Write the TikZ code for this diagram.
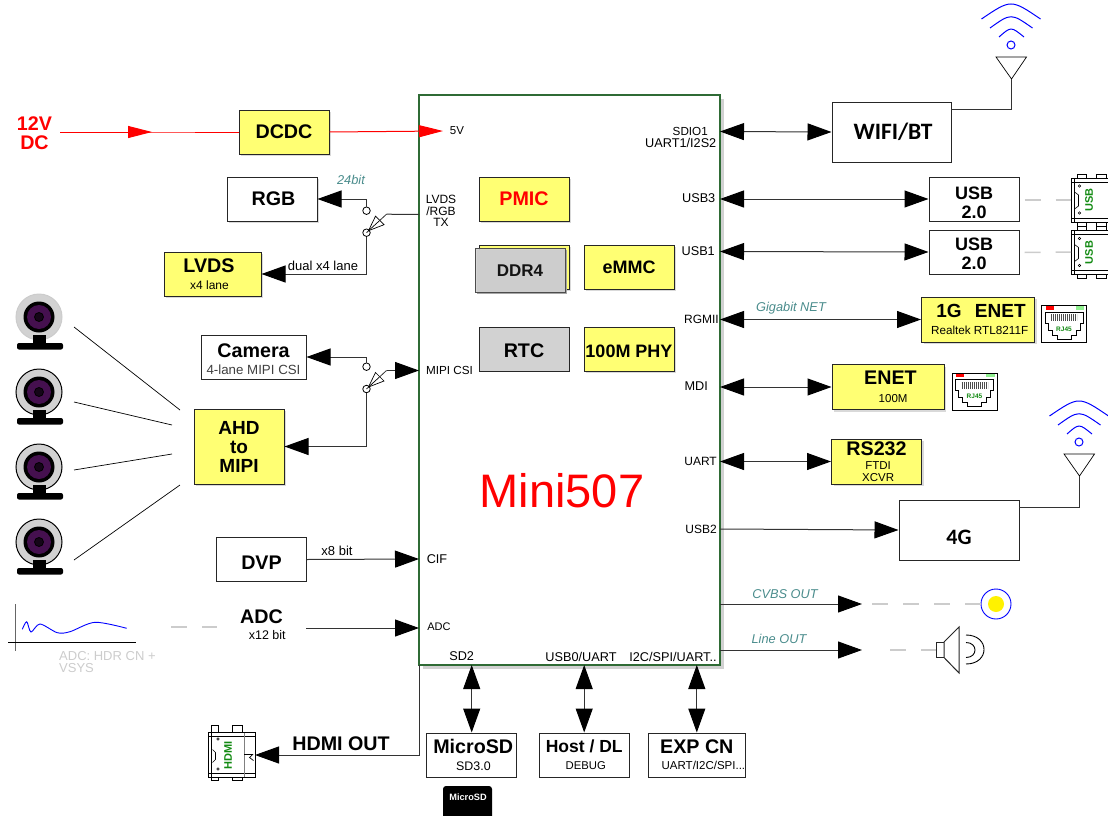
\documentclass[tikz,border=0pt]{standalone}
\usepackage{fontspec}
\usepackage{xcolor}
\usepackage{tikz}
\usetikzlibrary{arrows.meta,positioning,shadows}
\setmainfont{Liberation Sans}
\newfontfamily\calibri{Carlito}
\newcommand{\subtxt}[1][12]{\fontsize{#1}{12.5}\selectfont\mdseries}
\newcommand{\boxfont}[1]{\bfseries\fontsize{#1}{19}\selectfont}
\newcommand{\topstrut}[1]{\rule{0pt}{#1pt}}
\definecolor{boxyellow}{HTML}{FFFF73}
\definecolor{boxgray}{HTML}{D2D2D2}
\definecolor{chipgreen}{HTML}{2F6B35}
\definecolor{noteteal}{HTML}{4A8C8C}
\definecolor{lenspurple}{HTML}{45104F}
\definecolor{usbgreen}{HTML}{128A12}
\definecolor{ledgreen}{HTML}{90F090}

\begin{document}
\begin{tikzpicture}[
    x=1pt, y=-1pt,
    box/.style={draw=black!85, rectangle, line width=1pt, inner sep=0pt, minimum width=90pt, minimum height=44pt, align=center, fill=white, font=\boxfont{19.7}},
    ybox/.style={box, fill=boxyellow, drop shadow={shadow xshift=2pt, shadow yshift=-2pt, fill=black!15, opacity=1}},
    gbox/.style={box, fill=boxgray},
    pin/.style={inner sep=0pt, font=\fontsize{12.7}{13}\selectfont},
    note/.style={inner sep=0pt, font=\fontsize{13}{13}\selectfont},
    inote/.style={inner sep=0pt, text=noteteal, font=\itshape\fontsize{12.8}{13}\selectfont},
    head/.style={inner sep=0pt, font=\boxfont{19.7}},
    wire/.style={line width=1pt, draw=black!80},
    arrow/.style={wire, -{Triangle[length=24pt,width=17pt,color=black]}},
    dbl/.style={wire, {Triangle[length=24pt,width=17pt,color=black]}-{Triangle[length=24pt,width=17pt,color=black]}},
    faint/.style={line width=1.5pt, draw=black!20, dash pattern=on 16pt off 15pt},
    camring/.style={draw=black},
    webcam/.pic={
        \filldraw[camring, fill=boxgray, line width=1pt] (0,0) circle (23pt);
        \fill[black] (-6,18) rectangle (7,27);
        \fill[black, rounded corners=2pt] (-22,26) rectangle (24,32.5);
        \fill[black] (0,0) circle (15.5pt);
        \fill[lenspurple] (0,0) circle (12pt);
        \filldraw[draw=black, fill=black!70!lenspurple, line width=.8pt] (0,0) circle (4.5pt);
    },
    antenna/.pic={
        \draw[blue, line width=1pt] (0,0) circle (4pt);
        \draw[blue, line width=1pt] (-12,-8) .. controls (0,-18.6) .. (13,-8);
        \draw[blue, line width=1pt] (-21,-17) .. controls (0,-32) .. (21.5,-17);
        \draw[blue, line width=1pt] (-29.5,-26) .. controls (0,-46) .. (29.5,-26);
        \draw[black, line width=.7pt] (-15,12) -- (15.5,12) -- (.5,34) -- cycle;
        \coordinate (-tip) at (.5,34);
    },
    wiper/.pic={
        \draw[wire, line width=.8pt] (0,0) -- (20,-18.5);
        \draw[black, line width=.7pt, fill=white] (2,-2) -- (9,-16.5) -- (17.5,-8) -- cycle;
        \draw[black, line width=.7pt] (2,-2) -- (13,-12);
        \coordinate (-tip) at (20,-18.5);
    },
    usbport/.pic={
        \draw[black, line width=.8pt] (-12,-26) rectangle (-3,-22) (7,-26) rectangle (17,-22);
        \draw[black, line width=.8pt] (-12,22) rectangle (-3,26) (7,22) rectangle (17,26);
        \draw[black, line width=1pt] (-18,-22) rectangle (19,22);
        \draw[black, line width=.7pt] (-18,-18) -- (19,-18) (-18,18) -- (19,18) (-15,-22) -- (-15,22);
        \draw[black, line width=.6pt] (-15,-8) -- (-11,-5) -- (-11,6) -- (-15,9);
        \draw[black, line width=.5pt] (-10,-14) circle (1.2pt) (-10,13) circle (1.2pt);
        \node[rotate=90, text=usbgreen, inner sep=0pt, font=\boxfont{11}] (-lbl) at (-.5,0) {USB};
    },
    hdmiport/.pic={
        \draw[black, line width=.8pt] (-20,-27.5) rectangle (-13.5,-20) (1,-27.5) rectangle (11,-20);
        \draw[black, line width=.8pt] (-20,24.5) rectangle (-13.5,28) (1,24.5) rectangle (11,28);
        \draw[black, line width=1pt] (-23,-20) rectangle (23.5,24.5);
        \draw[black, line width=.7pt] (-23,-16) -- (23.5,-16) (-23,20.5) -- (23.5,20.5) (-20,-20) -- (-20,24.5);
        \draw[black!50, line width=.7pt] (12.5,-20) -- (12.5,24.5);
        \draw[black, line width=.7pt] (12.5,2) -- (21,2) -- (18,5) -- (22,8);
        \draw[black, line width=.6pt] (-19,-3) -- (-16,0) -- (-16,7) -- (-19,10);
        \draw[black, line width=.5pt] (-13.5,-13.5) circle (1.2pt) (-13.5,16.5) circle (1.2pt);
        \node[rotate=90, text=usbgreen, inner sep=0pt, font=\boxfont{11}] (-lbl) at (-3.5,2.5) {HDMI};
        \coordinate (-in) at (23.5,2.5);
    },
    rj/.pic={
        \draw[black, line width=1pt, fill=white] (-22.5,-18.5) rectangle (22.5,18.5);
        \fill[red] (-18.5,-18) rectangle (-10.5,-14.5);
        \fill[ledgreen] (11.5,-18) rectangle (20,-14.5);
        \draw[black, line width=.9pt] (-19,-12) -- (19,-12) -- (19,-1) -- (16,-1) -- (16,6) -- (12,6) -- (12,11) -- (7,11) -- (7,15) -- (-7,15) -- (-7,11) -- (-12,11) -- (-12,6) -- (-16,6) -- (-16,-1) -- (-19,-1) -- cycle;
        \draw[black!70, line width=7pt, dash pattern=on 1.4pt off .6pt] (-13,-6.5) -- (13,-6.5);
        \node[text=usbgreen, inner sep=0pt, font=\boxfont{6.5}] (-lbl) at (0,5) {RJ45};
    },
    speaker/.pic={
        \draw[black!85, line width=1pt, fill=white] (-23,-8) rectangle (-15,7.5);
        \draw[black!85, line width=1pt, fill=white] (-15,-8) -- (0,-23) -- (0,23) -- (-15,7.5) -- cycle;
        \draw[black, line width=.9pt] (7,-15) .. controls (31,-15) and (31,14) .. (7,14);
        \draw[black, line width=.9pt] (7,-7.5) .. controls (19,-7.5) and (19,7.5) .. (7,7.5);
        \coordinate (-in) at (-23,0);
    },
]

\useasboundingbox (0,0) rectangle (1108,816);

% main module
\node[draw=chipgreen, line width=1.3pt, fill=white, rectangle, inner sep=0pt, minimum width=301pt, minimum height=570pt, drop shadow={shadow xshift=3.5pt, shadow yshift=-3.5pt, fill=black!18, opacity=1}] (chip) at (569.5,380) {};
\node[inner sep=0pt, text=red, font=\fontsize{47}{50}\selectfont] (title) at (562,491) {Mini507};

% inside the module
\node[ybox, text=red] (pmic) at (524,199) {PMIC};
\node[ybox] (ddrback) at (524,267) {};
\node[gbox, draw=black!70, drop shadow={shadow xshift=1.5pt, shadow yshift=-1.5pt, fill=black!35, opacity=1}, fill opacity=.9, font=\boxfont{17}] (ddr) at (520,270.5) {DDR4};
\node[ybox, font=\boxfont{18}] (emmc) at (629,267) {eMMC};
\node[gbox] (rtc) at (524,349) {\topstrut{18}RTC};
\node[ybox, font=\boxfont{18}] (phy) at (629,349) {\topstrut{17}100M PHY};

% chip pins
\coordinate (p5v) at (443,131);
\coordinate (plvds) at (419,214.5);
\coordinate (pcsi) at (419,370.5);
\coordinate (pcif) at (419,559);
\coordinate (padc) at (419,628);
\coordinate (psdio) at (720,131.5);
\coordinate (pusbc) at (720,199);
\coordinate (pusbb) at (720,251.5);
\coordinate (prgmii) at (720,319.5);
\coordinate (pmdi) at (720,387);
\coordinate (puart) at (720,461.5);
\coordinate (pusbd) at (720,529);
\coordinate (pcvbs) at (720,604);
\coordinate (pline) at (720,650);
\coordinate (psd) at (471.7,665);
\coordinate (phost) at (584.2,665);
\coordinate (pexp) at (696.8,665);
\coordinate (phdmi) at (419,665);

\node[pin, font=\fontsize{11.5}{13}\selectfont] (t5v) at (457,131) {5V};
\node[pin, align=center, font=\fontsize{12}{13}\selectfont] (tlvds) at (441,211) {LVDS\\[-1.5pt]/RGB\\[-1.5pt]TX};
\node[pin, font=\fontsize{11.7}{13}\selectfont] (tcsi) at (449.5,370) {MIPI CSI};
\node[pin] (tcif) at (437,559) {CIF};
\node[pin, font=\fontsize{11}{12}\selectfont] (tadc) at (439,627) {ADC};
\node[pin, anchor=east, font=\fontsize{11.7}{13}\selectfont] (tsdio) at (708,131) {SDIO1};
\node[pin, anchor=east] (tuarta) at (716.5,143) {UART1/I2S2};
\node[pin, anchor=east] (tusbc) at (715.5,198.5) {USB3};
\node[pin, anchor=east] (tusbb) at (715,251) {USB1};
\node[pin, anchor=east, font=\fontsize{12}{13}\selectfont] (trgmii) at (719,319) {RGMII};
\node[pin, anchor=east] (tmdi) at (708,386) {MDI};
\node[pin, anchor=east, font=\fontsize{12}{13}\selectfont] (tuart) at (717,461) {UART};
\node[pin, anchor=east, font=\fontsize{12}{13}\selectfont] (tusbd) at (717,529) {USB2};
\node[pin] (tsd) at (461.7,656.5) {SD2};
\node[pin] (thost) at (581,656.5) {USB0/UART};
\node[pin] (texp) at (673,656.5) {I2C/SPI/UART..};

% power
\node[ybox] (dcdc) at (284,132) {DCDC};
\node[head, text=red, align=center] (dc) at (34.5,133) {12V\\DC};
\coordinate (dcout) at (60,132);
\coordinate (dcmid) at (152,132);
\draw[line width=1pt, red] (dcout) -- (dcmid) -- (dcdc.west);
\draw[line width=1pt, red, -{Triangle[length=24pt,width=12pt,color=red]}] (dcout) -- (dcmid);
\draw[line width=1pt, red, -{Triangle[length=24pt,width=12pt,color=red]}] (dcdc.east) -- (p5v);

% display side
\node[box, drop shadow={shadow xshift=2pt, shadow yshift=-2pt, fill=black!15, opacity=1}] (rgb) at (272,199) {\hspace*{3pt}RGB};
\node[ybox, minimum width=97pt, minimum height=44pt] (lvds) at (212.5,274) {\hspace*{-7pt}LVDS\\[-2pt]\hspace*{-6pt}\subtxt x4 lane};
\node[circle, draw=black, fill=white, line width=.8pt, inner sep=0pt, minimum size=7.5pt] (swa) at (366.5,210.7) {};
\node[circle, draw=black, fill=white, line width=.8pt, inner sep=0pt, minimum size=7.5pt] (swb) at (366.5,232.7) {};
\pic (lsw) at (366.5,232.7) {wiper};
\draw[arrow] (swa) |- (rgb.east);
\draw[arrow] (swb) |- (lvds.east);
\draw[wire] (lsw-tip) -- (plvds);
\node[inote] (t24) at (351,179.5) {24bit};
\node[note] (tdual) at (323,265.5) {dual x4 lane};

% camera side
\node[box, minimum width=105pt, minimum height=44pt] (cam) at (253.5,357) {\topstrut{18}Camera\\[-2pt]\subtxt[13.3]\textcolor{black!75}{4-lane MIPI CSI}};
\node[ybox, minimum height=75pt, font=\boxfont{19}] (ahd) at (239,446.5) {AHD\\to\\MIPI};
\node[circle, draw=black, fill=white, line width=.8pt, inner sep=0pt, minimum size=7.5pt] (swc) at (366.5,366.7) {};
\node[circle, draw=black, fill=white, line width=.8pt, inner sep=0pt, minimum size=7.5pt] (swd) at (366.5,389) {};
\pic (csw) at (366.5,389) {wiper};
\draw[arrow] (swc) |- (cam.east);
\draw[arrow] (swd) |- (ahd.east);
\draw[arrow] (csw-tip) -- (pcsi);

\pic[camring/.style={draw=black!20}] (cama) at (39,317) {webcam};
\pic (camb) at (39,392) {webcam};
\pic (camc) at (39,467) {webcam};
\pic (camd) at (39,542) {webcam};
\coordinate (ca) at (74,327);
\coordinate (cb) at (74,402);
\coordinate (cc) at (74,470);
\coordinate (cd) at (74,560);
\coordinate (aa) at (180,410);
\coordinate (ab) at (172,425);
\coordinate (ac) at (172,454);
\coordinate (ad) at (180,485);
\draw[black, line width=.7pt] (ca) -- (aa);
\draw[black, line width=.7pt] (cb) -- (ab);
\draw[black, line width=.7pt] (cc) -- (ac);
\draw[black, line width=.7pt] (cd) -- (ad);

% dvp and adc
\node[box] (dvp) at (261.5,559.5) {\topstrut{20}DVP};
\draw[arrow] (dvp.east) -- (pcif);
\node[note] (tx8) at (337,551) {x8 bit};
\node[head, minimum width=89pt, align=center] (adc) at (261.5,624.5) {ADC\\[-3pt]\hspace*{8pt}\subtxt[12.5] x12 bit};
\coordinate (adcin) at (171,627);
\coordinate (adcw) at (217,627);
\coordinate (adce) at (306,628);
\draw[faint] (adcin) -- (adcw);
\draw[arrow] (adce) -- (padc);

\draw[black!60, line width=1pt] (15.7,604) -- (15.7,650.5);
\draw[black, line width=.9pt] (8,642.3) -- (136,642.3);
\draw[blue, line width=.9pt] plot[smooth] coordinates {(22.3,629.3) (26.7,621.7) (31,632) (40,624) (57.3,632.7) (70,631.7) (95,622.3) (126.7,628.3)};
\node[note, anchor=north west, align=left, text=black!20, font=\fontsize{13}{12}\selectfont] (tadcsrc) at (59,651) {ADC: HDR CN +\\VSYS};

% right side, wireless
\node[box, minimum width=119pt, minimum height=60pt, font=\calibri\bfseries\fontsize{23.5}{24}\selectfont] (wifi) at (891.5,132) {\hspace*{3pt}WIFI/BT};
\coordinate (wifiout) at (951,109);
\pic (wifiant) at (1011,45) {antenna};
\draw[dbl] (psdio) -- (wifi.west);
\draw[wire] (wifiout) -| (wifiant-tip);

% right side, usb
\node[box, font=\boxfont{18}] (usbc) at (974,199) {\topstrut{21}USB\\2.0};
\node[box, below=8pt of usbc, font=\boxfont{18}] (usbb) {\topstrut{17}USB\\2.0};
\draw[dbl] (pusbc) -- (usbc.west);
\draw[dbl] (pusbb) -- (usbb.west);
\pic (connc) at (1089.5,200) {usbport};
\pic (connb) at (1089.5,252.5) {usbport};
\coordinate (connci) at (1071,200);
\coordinate (connbi) at (1071,252);
\draw[faint] (usbc.east) ++(5,1) -- (connci);
\draw[faint] (usbb.east) ++(5,0.5) -- (connbi);

% right side, ethernet and serial
\node[ybox, minimum width=113pt, minimum height=45pt, font=\boxfont{19}] (gbe) at (978,319.5) {\hspace*{6pt}1G\hspace{.7em}ENET\\[-2pt]\subtxt[11.7] Realtek RTL8211F};
\draw[dbl] (prgmii) -- (gbe.west);
\node[inote] (tgig) at (791,308) {Gigabit NET};
\pic (rja) at (1064,324) {rj};
\node[ybox, minimum width=112pt, minimum height=45pt] (enet) at (888,387) {\hspace*{5pt}ENET\\[-1pt]\hspace*{7pt}\subtxt[11.5] 100M};
\draw[dbl] (pmdi) -- (enet.west);
\pic (rjb) at (974.5,391.5) {rj};
\node[ybox, minimum height=45pt] (rs) at (876.5,461.5) {RS232\\[-5pt]\subtxt[11.5] FTDI\\[-7pt]\subtxt[11.5] XCVR};
\draw[dbl] (puart) -- (rs.west);

% 4g
\node[box, minimum width=120pt, minimum height=60pt, font=\calibri\bfseries\fontsize{22}{24}\selectfont] (lte) at (959,530) {\topstrut{29}4G};
\draw[arrow] (pusbd) -- (lte.west);
\pic (lteant) at (1079,442) {antenna};
\coordinate (lteout) at (1019,507);
\draw[wire] (lteout) -| (lteant-tip);

% audio and video out
\coordinate (cvbsend) at (862,604);
\coordinate (cvbsdash) at (872,604);
\node[circle, draw=blue, fill=white, line width=.9pt, inner sep=0pt, minimum size=30pt] (rca) at (996,604) {};
\fill[yellow] (rca.center) circle (8pt);
\draw[arrow] (pcvbs) -- (cvbsend);
\draw[faint] (cvbsdash) -- (rca.west);
\node[inote] (tcvbs) at (785,594) {CVBS OUT};
\coordinate (lineend) at (862,650);
\coordinate (linedash) at (890,650);
\pic (spk) at (959,650) {speaker};
\draw[arrow] (pline) -- (lineend);
\draw[faint] (linedash) -- (spk-in);
\node[inote] (tline) at (779,639) {Line OUT};

% bottom row
\node[box, minimum height=44pt] (msd) at (471.7,755) {\hspace*{3pt}MicroSD\\[-2pt]\subtxt[12.4] SD3.0};
\node[box, minimum height=44pt, font=\boxfont{17.5}] (host) at (584.2,755) {Host / DL\\[-2pt]\subtxt[11.3] DEBUG};
\node[box, minimum height=44pt] (expc) at (696.8,755) {EXP CN\\[-3pt]\hspace*{10pt}\subtxt[11.5] UART/I2C/SPI...};
\draw[dbl] (psd) -- (msd.north);
\draw[dbl] (phost) -- (host.north);
\draw[dbl] (pexp) -- (expc.north);
\fill[black, rounded corners=3pt] (443,786) rectangle (492,825);
\node[inner sep=0pt, text=white, font=\boxfont{9.2}] (tcard) at (468,797.5) {MicroSD};

% hdmi
\pic (hdmi) at (231.5,752.5) {hdmiport};
\draw[arrow] (phdmi) |- (hdmi-in);
\node[head] (thdmi) at (341,744) {HDMI OUT};

\end{tikzpicture}
\end{document}
